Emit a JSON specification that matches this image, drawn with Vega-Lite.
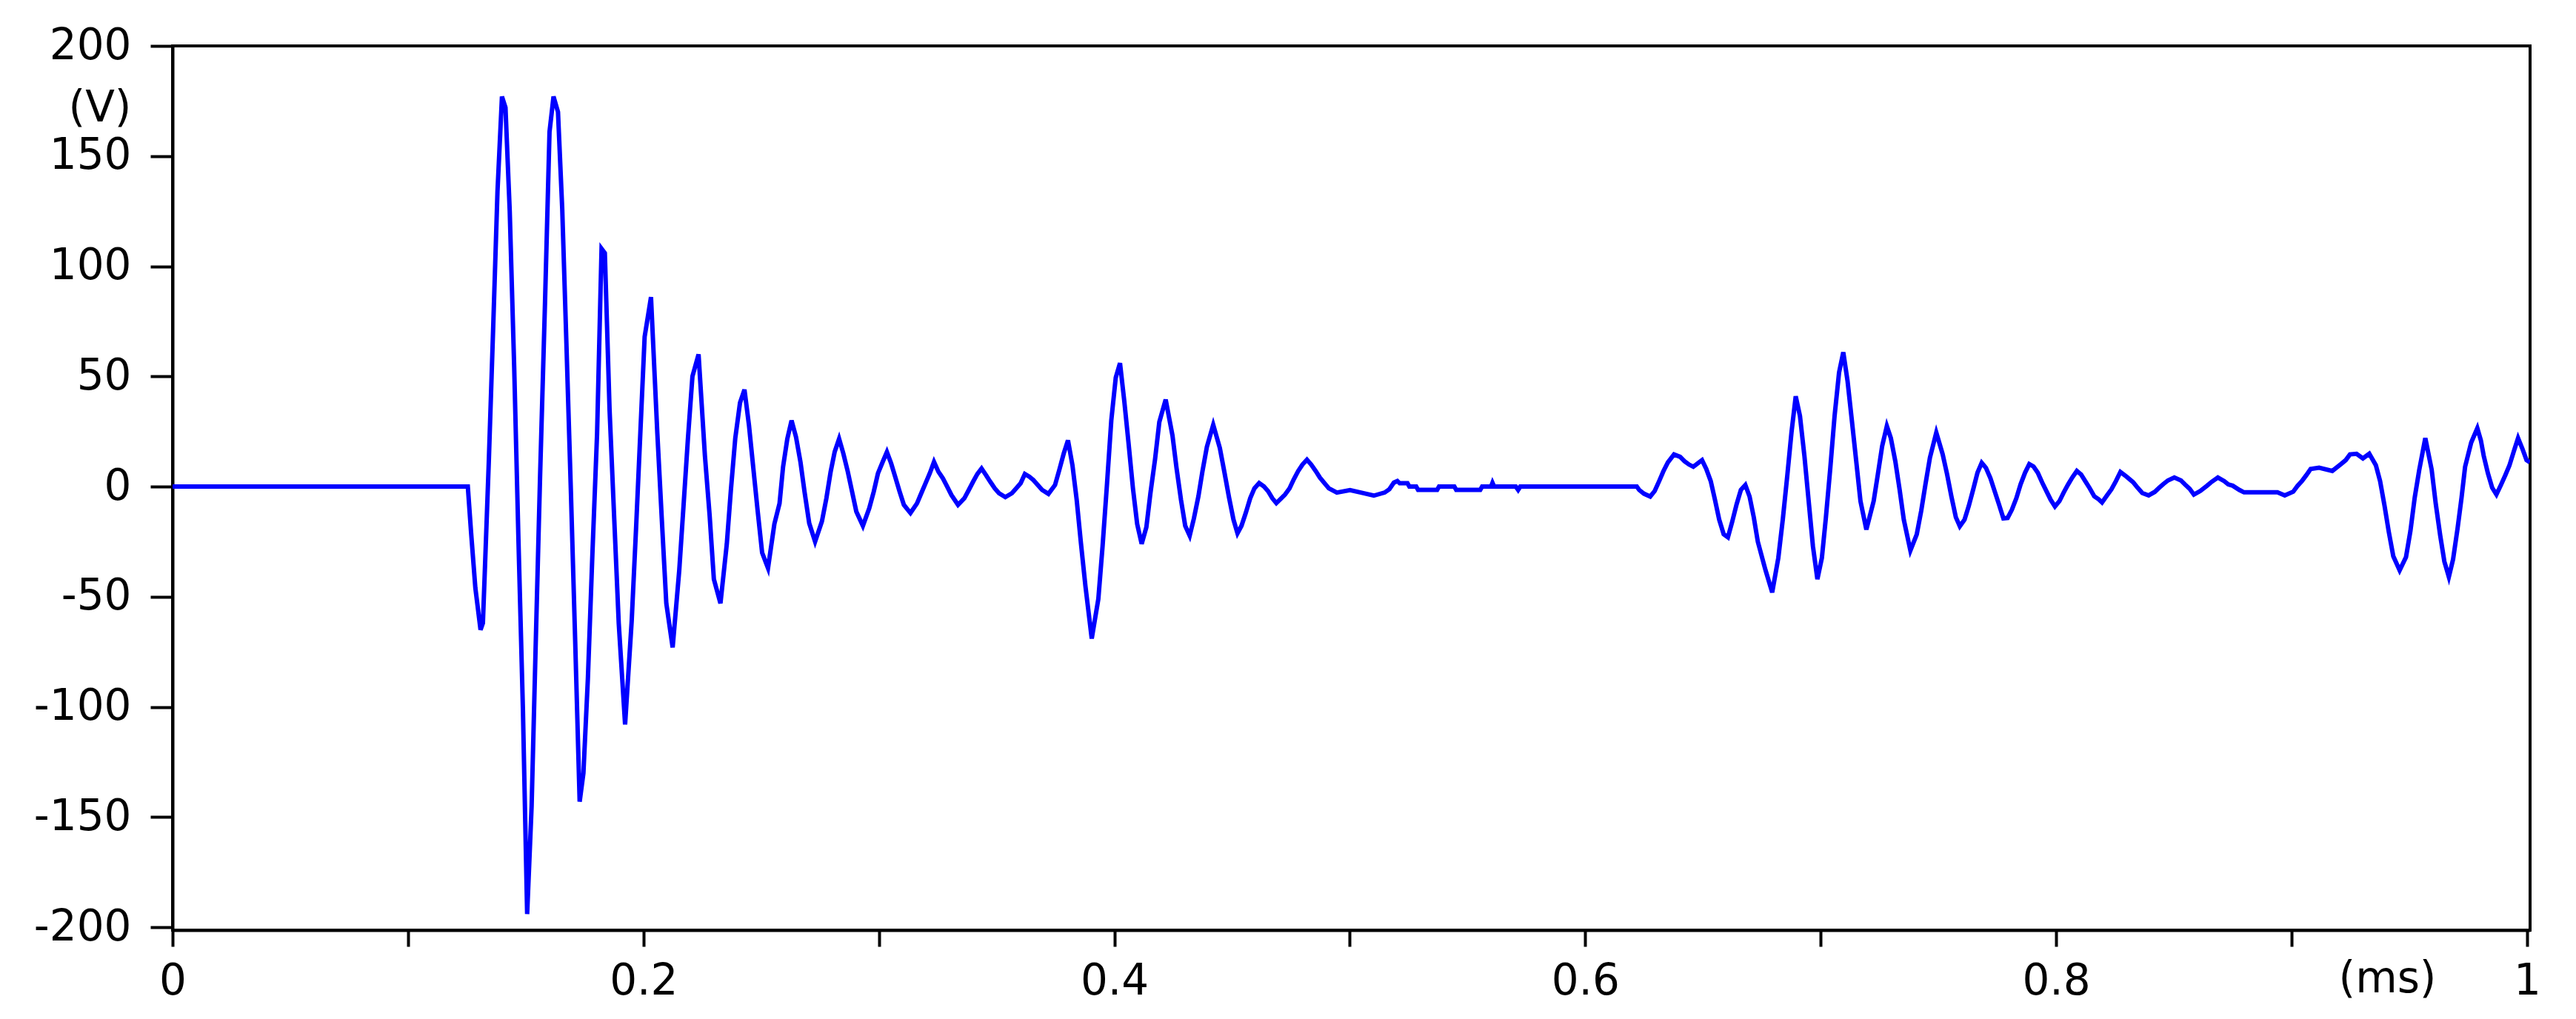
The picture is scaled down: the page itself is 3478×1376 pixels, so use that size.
{
  "$schema": "https://vega.github.io/schema/vega-lite/v6.json",
  "width": 3183,
  "height": 1194,
  "autosize": {"type": "none"},
  "padding": {"left": 233, "top": 62, "right": 62, "bottom": 120},
  "background": "white",
  "config": {
    "view": {"stroke": "black", "strokeWidth": 4},
    "axis": {
      "grid": false,
      "domainColor": "black",
      "domainWidth": 4,
      "tickColor": "black",
      "tickWidth": 4,
      "labelFont": "DejaVu Sans",
      "labelFontSize": 58,
      "labelColor": "black",
      "titleFont": "DejaVu Sans",
      "titleFontSize": 58,
      "titleFontWeight": "normal",
      "titleColor": "black",
      "labelOverlap": false,
      "labelBound": false
    }
  },
  "data": {"values": [
    {"t":0,"v":0},{"t":0.1254,"v":0},{"t":0.1268,"v":-21},{"t":0.1286,"v":-46},{"t":0.1308,"v":-65},{"t":0.1318,"v":-62},{"t":0.1326,"v":-39},{"t":0.1343,"v":11},{"t":0.1362,"v":73},{"t":0.1380,"v":134},{"t":0.1399,"v":177},{"t":0.1414,"v":172},{"t":0.1432,"v":125},{"t":0.1451,"v":54},{"t":0.1469,"v":-24},{"t":0.1488,"v":-101},{"t":0.1506,"v":-194},{"t":0.1525,"v":-145},{"t":0.1542,"v":-73},{"t":0.1561,"v":5},{"t":0.1582,"v":84},{"t":0.1601,"v":161},{"t":0.1618,"v":177},{"t":0.1637,"v":170},{"t":0.1655,"v":126},{"t":0.1673,"v":64},{"t":0.1692,"v":-3},{"t":0.1710,"v":-70},{"t":0.1729,"v":-143},{"t":0.1745,"v":-130},{"t":0.1764,"v":-87},{"t":0.1783,"v":-31},{"t":0.1803,"v":24},{"t":0.1822,"v":108},{"t":0.1836,"v":106},{"t":0.1856,"v":35},{"t":0.1876,"v":-15},{"t":0.1895,"v":-62},{"t":0.1922,"v":-108},{"t":0.1950,"v":-61},{"t":0.1969,"v":-18},{"t":0.1987,"v":25},{"t":0.2005,"v":68},{"t":0.2032,"v":86},{"t":0.2059,"v":24},{"t":0.2078,"v":-15},{"t":0.2097,"v":-53},{"t":0.2124,"v":-73},{"t":0.2152,"v":-38},{"t":0.2170,"v":-9},{"t":0.2189,"v":22},{"t":0.2208,"v":50},{"t":0.2234,"v":60},{"t":0.2261,"v":14},{"t":0.2281,"v":-13},{"t":0.2299,"v":-42},{"t":0.2327,"v":-53},{"t":0.2354,"v":-26},{"t":0.2371,"v":-2},{"t":0.2390,"v":22},{"t":0.2410,"v":38},{"t":0.2429,"v":44},{"t":0.2448,"v":28},{"t":0.2466,"v":9},{"t":0.2485,"v":-11},{"t":0.2504,"v":-30},{"t":0.2529,"v":-37},{"t":0.2556,"v":-17},
    {"t":0.2578,"v":-7.6},{"t":0.2593,"v":9},{"t":0.2611,"v":21.7},{"t":0.2629,"v":30},{"t":0.2648,"v":22.5},{"t":0.2667,"v":11},{"t":0.2684,"v":-2.3},{"t":0.2704,"v":-16.6},{"t":0.2729,"v":-25},{"t":0.2758,"v":-15.8},{"t":0.2777,"v":-5.3},{"t":0.2795,"v":6.7},{"t":0.2812,"v":15.7},{"t":0.2831,"v":21.7},{"t":0.2849,"v":15},{"t":0.2868,"v":6.7},{"t":0.2886,"v":-2.3},{"t":0.2904,"v":-11.3},{"t":0.2932,"v":-17.8},{"t":0.2959,"v":-9.8},{"t":0.2978,"v":-2.3},{"t":0.2996,"v":6},{"t":0.3016,"v":11.2},{"t":0.3034,"v":15.7},{"t":0.3052,"v":10.5},{"t":0.3069,"v":4.5},{"t":0.3088,"v":-2.3},{"t":0.3106,"v":-8.3},{"t":0.3134,"v":-12},{"t":0.3162,"v":-7.6},{"t":0.3180,"v":-3},{"t":0.3198,"v":1.5},{"t":0.3216,"v":6},{"t":0.3234,"v":11.2},{"t":0.3253,"v":6.7},{"t":0.3272,"v":3.7},{"t":0.3290,"v":0},{"t":0.3308,"v":-3.8},{"t":0.3336,"v":-8.3},{"t":0.3363,"v":-5.3},{"t":0.3382,"v":-1.5},{"t":0.3400,"v":2.2},{"t":0.3418,"v":5.7},{"t":0.3436,"v":8.2},{"t":0.3455,"v":5.2},{"t":0.3473,"v":2.2},{"t":0.3492,"v":-0.8},{"t":0.3510,"v":-3},{"t":0.3537,"v":-4.8},{"t":0.3565,"v":-3},{"t":0.3583,"v":-0.8},{"t":0.3602,"v":1.5},{"t":0.3620,"v":5.7},{"t":0.3639,"v":4.5},{"t":0.3656,"v":3},{"t":0.3675,"v":0.7},{"t":0.3693,"v":-1.5},{"t":0.3720,"v":-3.3},{"t":0.3748,"v":0.7},{"t":0.3766,"v":7.5},{"t":0.3785,"v":15},{"t":0.3803,"v":21},{"t":0.3822,"v":9.7},{"t":0.3840,"v":-6},{"t":0.3858,"v":-25.6},{"t":0.3877,"v":-45},{"t":0.3904,"v":-69},{"t":0.3932,"v":-51},{"t":0.3950,"v":-27},{"t":0.3969,"v":1.5},{"t":0.3987,"v":30},{"t":0.4006,"v":49.5},{"t":0.4024,"v":56},{"t":0.4042,"v":39},{"t":0.4060,"v":20},{"t":0.4079,"v":-0.8},{"t":0.4097,"v":-17},{"t":0.4116,"v":-26},{"t":0.4136,"v":-18.4},{"t":0.4153,"v":-3.2},{"t":0.4173,"v":12.5},{"t":0.4191,"v":29.3},{"t":0.4218,"v":39.5},{"t":0.4247,"v":23.1},{"t":0.4264,"v":8.5},{"t":0.4283,"v":-6},{"t":0.4301,"v":-17.8},{"t":0.4320,"v":-22.3},{"t":0.4338,"v":-14.4},{"t":0.4357,"v":-4.4},{"t":0.4374,"v":6.8},{"t":0.4393,"v":18},{"t":0.4420,"v":28},{"t":0.4448,"v":17.5},{"t":0.4467,"v":6.8},{"t":0.4487,"v":-4.9},{"t":0.4506,"v":-15},{"t":0.4523,"v":-21.2},{"t":0.4540,"v":-17.8},{"t":0.4558,"v":-12},{"t":0.4577,"v":-5.3},{"t":0.4595,"v":-0.8},{"t":0.4615,"v":1.6},{"t":0.4635,"v":0.1},{"t":0.4653,"v":-2.1},{"t":0.4671,"v":-5.3},{"t":0.4688,"v":-7.5},{"t":0.4705,"v":-5.7},{"t":0.4725,"v":-3.6},{"t":0.4744,"v":-0.8},{"t":0.4762,"v":3.3},{"t":0.4781,"v":7.1},{"t":0.4799,"v":10},{"t":0.4818,"v":12.2},{"t":0.4836,"v":10},{"t":0.4855,"v":7.1},{"t":0.4873,"v":4.1},{"t":0.4893,"v":1.5},{"t":0.4911,"v":-0.8},{"t":0.4945,"v":-2.7},{"t":0.5001,"v":-1.6},{"t":0.5047,"v":-2.7},{"t":0.5102,"v":-4.1},{"t":0.5148,"v":-2.7},{"t":0.5168,"v":-1.2},{"t":0.5187,"v":1.8},{"t":0.5202,"v":2.5},
    {"t":0.5212,"v":1.5},{"t":0.5245,"v":1.5},{"t":0.5253,"v":0},{"t":0.5282,"v":0},{"t":0.5290,"v":-1.5},{"t":0.5371,"v":-1.5},{"t":0.5379,"v":0},{"t":0.5444,"v":0},{"t":0.5452,"v":-1.5},{"t":0.5554,"v":-1.5},{"t":0.5562,"v":0},{"t":0.5600,"v":0},{"t":0.5606,"v":1.7},{"t":0.5613,"v":0},{"t":0.5705,"v":0},{"t":0.5715,"v":-1.5},{"t":0.5724,"v":0},{"t":0.6219,"v":0},
    {"t":0.6229,"v":-1.5},{"t":0.6249,"v":-3.2},{"t":0.6276,"v":-4.5},{"t":0.6295,"v":-2},{"t":0.6314,"v":2.5},{"t":0.6332,"v":7},{"t":0.6351,"v":11},{"t":0.6377,"v":14.6},{"t":0.6403,"v":13.5},{"t":0.6422,"v":11.5},{"t":0.6441,"v":10},{"t":0.6459,"v":9},{"t":0.6477,"v":10.5},{"t":0.6496,"v":12},{"t":0.6514,"v":8},{"t":0.6533,"v":2.5},{"t":0.6551,"v":-6},{"t":0.6569,"v":-15},{"t":0.6588,"v":-21.6},{"t":0.6606,"v":-23},{"t":0.6624,"v":-16},{"t":0.6643,"v":-8},{"t":0.6661,"v":-1.5},{"t":0.6680,"v":0.7},{"t":0.6698,"v":-4.5},{"t":0.6716,"v":-14},{"t":0.6733,"v":-25},{"t":0.6765,"v":-37.7},{"t":0.6794,"v":-48},{"t":0.6820,"v":-32.4},{"t":0.6839,"v":-15},{"t":0.6858,"v":4.8},{"t":0.6876,"v":24.6},{"t":0.6894,"v":41},{"t":0.6912,"v":32},{"t":0.6931,"v":13.8},{"t":0.6949,"v":-6.6},{"t":0.6967,"v":-27},{"t":0.6986,"v":-42},{"t":0.7005,"v":-32.4},{"t":0.7022,"v":-14.2},{"t":0.7041,"v":8.6},{"t":0.7059,"v":32},{"t":0.7078,"v":51.7},{"t":0.7096,"v":61},{"t":0.7114,"v":48},{"t":0.7132,"v":30.4},{"t":0.7151,"v":11.5},{"t":0.7169,"v":-6.6},{"t":0.7194,"v":-19.5},{"t":0.7225,"v":-6.6},{"t":0.7243,"v":5.7},{"t":0.7261,"v":18.3},{"t":0.7281,"v":27.5},{"t":0.7298,"v":22},{"t":0.7317,"v":11.5},{"t":0.7335,"v":-1.2},{"t":0.7353,"v":-15},{"t":0.7381,"v":-29},{"t":0.7408,"v":-21.7},{"t":0.7427,"v":-11},{"t":0.7445,"v":1},{"t":0.7464,"v":13.1},{"t":0.7491,"v":24.5},{"t":0.7518,"v":14.7},{"t":0.7537,"v":5.5},{"t":0.7555,"v":-4.4},{"t":0.7574,"v":-13.9},{"t":0.7591,"v":-18},{"t":0.7611,"v":-15},{"t":0.7629,"v":-8.8},{"t":0.7648,"v":-1.2},{"t":0.7666,"v":6.3},{"t":0.7684,"v":10.8},{"t":0.7702,"v":8.5},{"t":0.7721,"v":3.8},{"t":0.7739,"v":-2.1},{"t":0.7757,"v":-8},{"t":0.7776,"v":-14.4},{"t":0.7794,"v":-14.2},{"t":0.7812,"v":-10.5},{"t":0.7831,"v":-5.3},{"t":0.7849,"v":1},{"t":0.7868,"v":6.3},{"t":0.7886,"v":10.2},{"t":0.7904,"v":9.1},{"t":0.7922,"v":6.3},{"t":0.7941,"v":1.8},{"t":0.7959,"v":-2.1},{"t":0.7977,"v":-6},{"t":0.7995,"v":-9},{"t":0.8014,"v":-6.6},{"t":0.8032,"v":-2.7},{"t":0.8051,"v":1},{"t":0.8069,"v":4.2},{"t":0.8088,"v":7.1},{"t":0.8106,"v":5.5},{"t":0.8124,"v":2.4},{"t":0.8143,"v":-0.8},{"t":0.8162,"v":-4.4},{"t":0.8180,"v":-5.7},{"t":0.8195,"v":-7.2},{"t":0.8216,"v":-4},{"t":0.8235,"v":-1.2},{"t":0.8254,"v":2.5},{"t":0.8273,"v":6.6},{"t":0.8299,"v":4.5},{"t":0.8327,"v":2},{"t":0.8346,"v":-0.5},{"t":0.8366,"v":-2.9},{"t":0.8393,"v":-4},{"t":0.8419,"v":-2.4},{"t":0.8438,"v":-0.5},{"t":0.8456,"v":1.2},{"t":0.8475,"v":2.8},{"t":0.8502,"v":4.1},{"t":0.8530,"v":2.8},{"t":0.8548,"v":0.9},{"t":0.8567,"v":-1},{"t":0.8585,"v":-3.6},{"t":0.8612,"v":-2},{"t":0.8641,"v":0.4},{"t":0.8661,"v":2.2},{"t":0.8687,"v":4.1},{"t":0.8714,"v":2.5},{"t":0.8731,"v":1},{"t":0.8750,"v":0.4},{"t":0.8778,"v":-1.5},{"t":0.8798,"v":-2.6},{"t":0.8940,"v":-2.6},{"t":0.8971,"v":-4},{"t":0.9007,"v":-2.3},{"t":0.9025,"v":0.3},{"t":0.9044,"v":2.5},{"t":0.9062,"v":5.1},{"t":0.9081,"v":8},{"t":0.9117,"v":8.6},{"t":0.9173,"v":7.1},{"t":0.9211,"v":10.3},{"t":0.9230,"v":12},{"t":0.9248,"v":14.6},{"t":0.9276,"v":14.9},{"t":0.9303,"v":12.8},{"t":0.9330,"v":14.9},{"t":0.9358,"v":9.7},{"t":0.9376,"v":2.5},{"t":0.9395,"v":-8.8},{"t":0.9413,"v":-20.6},{"t":0.9432,"v":-31.6},{"t":0.9459,"v":-38},{"t":0.9486,"v":-32},{"t":0.9505,"v":-20},{"t":0.9523,"v":-5},{"t":0.9542,"v":7.4},{"t":0.9568,"v":22},{"t":0.9595,"v":7.7},{"t":0.9612,"v":-7.5},{"t":0.9631,"v":-22},{"t":0.9649,"v":-34},{"t":0.9668,"v":-41},{"t":0.9686,"v":-33},{"t":0.9705,"v":-19},{"t":0.9722,"v":-5},{"t":0.9737,"v":9},{"t":0.9763,"v":20},{"t":0.9789,"v":26.5},{"t":0.9804,"v":21},{"t":0.9816,"v":14},{"t":0.9834,"v":6},{"t":0.9852,"v":-0.5},{"t":0.9870,"v":-3.6},{"t":0.9889,"v":0.7},{"t":0.9907,"v":5},{"t":0.9925,"v":9.5},{"t":0.9944,"v":16},{"t":0.9962,"v":22},{"t":0.9981,"v":17},{"t":0.9998,"v":12},{"t":1.0012,"v":11}
  ]},
  "mark": {"type": "line", "color": "#0000FF", "strokeWidth": 6, "clip": true},
  "encoding": {
    "x": {
      "field": "t",
      "type": "quantitative",
      "scale": {"domain": [0, 1.0013], "nice": false, "zero": false},
      "axis": {
        "values": [0, 0.1, 0.2, 0.3, 0.4, 0.5, 0.6, 0.7, 0.8, 0.9, 1],
        "format": "~g",
        "labelExpr": "round(datum.value*10) % 2 == 0 ? datum.label : ''",
        "labelFlush": false,
        "tickSize": 22,
        "labelPadding": 18,
        "title": "(ms)",
        "titleX": 2990,
        "titleY": 83,
        "titleAlign": "center",
        "titleBaseline": "alphabetic"
      }
    },
    "y": {
      "field": "v",
      "type": "quantitative",
      "scale": {"domain": [-201.3, 200], "nice": false, "zero": false},
      "axis": {
        "values": [-200, -150, -100, -50, 0, 50, 100, 150, 200],
        "labelExpr": "toString(datum.value)",
        "labelFlush": false,
        "tickSize": 30,
        "labelPadding": 26,
        "title": "(V)",
        "titleAngle": 0,
        "titleX": -56,
        "titleY": 101,
        "titleAlign": "right",
        "titleBaseline": "alphabetic"
      }
    }
  }
}
